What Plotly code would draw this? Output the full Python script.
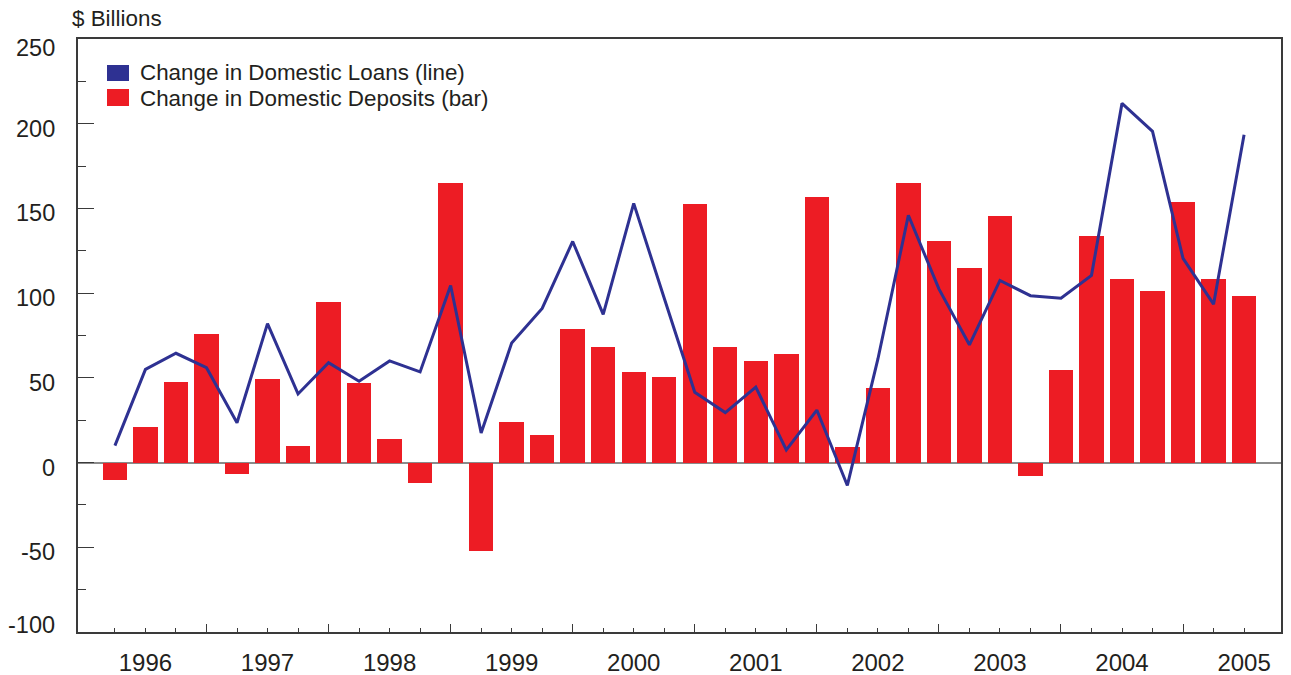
import plotly.graph_objects as go

# Quarterly changes, $ billions (positions 0..37 on the quarter axis)
quarters = list(range(38))
deposits = [-10, 21, 47.5, 76, -7, 49.5, 10, 95, 47, 14,
            -12, 165, -52, 24, 16, 79, 68, 53.5, 50.5, 152.5,
            68.5, 60, 64, 157, 9, 44, 165, 131, 115, 145.5,
            -8, 54.5, 134, 108.5, 101, 154, 108.5, 98.5]
loans = [10, 55, 64.5, 56, 23.5, 82, 40.5, 59, 48, 60,
         53.5, 104.5, 17.5, 70.5, 91, 130.5, 87.5, 153, 97, 41.5,
         29.5, 44.5, 7.5, 31, -13.5, 61, 146, 102.5, 69.5, 107.5,
         98.5, 97, 110.5, 212, 195.5, 120.5, 93.5, 193.5]

# Year labels and year-boundary ticks on the quarter axis
year_labels = [str(y) for y in range(1996, 2006)]
year_label_pos = [1 + 4 * i for i in range(len(year_labels))]
year_tick_pos = [3 + 4 * i for i in range(9)]
y_ticks = [-100, -50, 0, 50, 100, 150, 200, 250]
y_range = [-100, 250]

RED = "#ED1C24"
BLUE = "#2E3192"
AXIS = "#3a3a3a"
TEXT = "#231F20"
FONT = "Liberation Sans, Arial, Helvetica, sans-serif"

fig = go.Figure()
fig.add_trace(go.Bar(x=quarters, y=deposits, width=0.8,
                     marker=dict(color=RED, line=dict(width=0)),
                     showlegend=False))
fig.add_trace(go.Scatter(x=quarters, y=loans, mode="lines",
                         line=dict(color=BLUE, width=3),
                         showlegend=False))
# carrier for the year-boundary tick axis
fig.add_trace(go.Scatter(x=[None], y=[None], xaxis="x2", yaxis="y",
                         showlegend=False, hoverinfo="skip"))

xrange = [-1.21, 38.21]
fig.update_layout(
    width=1291, height=675, autosize=False,
    margin=dict(l=78, r=10, t=39, b=43),
    paper_bgcolor="white", plot_bgcolor="white",
    font=dict(family=FONT, size=22, color=TEXT),
    showlegend=False,
    bargap=0,
    xaxis=dict(
        range=xrange, tickmode="array", tickvals=year_label_pos,
        ticktext=year_labels, ticks="inside", ticklen=4, tickwidth=1.2,
        tickcolor=AXIS, showline=True, linecolor=AXIS, linewidth=1.5,
        mirror=True, showgrid=False, zeroline=False, automargin=False,
        ticklabelstandoff=8,
        tickfont=dict(family=FONT, size=24, color=TEXT),
        minor=dict(tickmode="array", tickvals=quarters, ticks="inside",
                   ticklen=4, tickwidth=1.2, tickcolor=AXIS),
    ),
    xaxis2=dict(
        range=xrange, overlaying="x", anchor="y", side="bottom",
        tickmode="array", tickvals=year_tick_pos, ticks="inside",
        ticklen=8, tickwidth=1.2, tickcolor=AXIS, automargin=False,
        showticklabels=False, showline=False, showgrid=False,
        zeroline=False,
    ),
    yaxis=dict(
        range=y_range, tickmode="array", tickvals=y_ticks,
        showticklabels=False, automargin=False,
        ticks="inside", ticklen=16, tickwidth=1.2, tickcolor=AXIS,
        showline=True, linecolor=AXIS, linewidth=1.5, mirror=True,
        showgrid=False, zeroline=True, zerolinecolor="#8a8a8a",
        zerolinewidth=2,
        minor=dict(dtick=25, tick0=0, ticks="inside", ticklen=8,
                   tickwidth=1.2, tickcolor=AXIS),
    ),
)

# Value-axis labels: set slightly below their ticks, kept inside the frame
for v in y_ticks:
    if v == y_range[1]:
        dy = -9
    elif v == y_range[0]:
        dy = 7
    else:
        dy = -5
    fig.add_annotation(xref="paper", yref="y", x=0, y=v,
                       xanchor="right", yanchor="middle", xshift=-21,
                       yshift=dy, showarrow=False, text=str(v),
                       font=dict(family=FONT, size=23.5, color=TEXT))

# Legend swatches and labels
fig.add_shape(type="rect", xref="paper", yref="paper",
              x0=0.0241, x1=0.0424, y0=0.9292, y1=0.9562,
              fillcolor=BLUE, line=dict(width=0))
fig.add_shape(type="rect", xref="paper", yref="paper",
              x0=0.0241, x1=0.0424, y0=0.887, y1=0.9157,
              fillcolor=RED, line=dict(width=0))
fig.add_annotation(xref="paper", yref="paper", x=0.0498, y=0.9427,
                   xanchor="left", yanchor="middle", showarrow=False,
                   text="Change in Domestic Loans (line)",
                   font=dict(family=FONT, size=22.4, color=TEXT))
fig.add_annotation(xref="paper", yref="paper", x=0.0498, y=0.9005,
                   xanchor="left", yanchor="middle", showarrow=False,
                   text="Change in Domestic Deposits (bar)",
                   font=dict(family=FONT, size=22.4, color=TEXT))
# Unit label above the value axis
fig.add_annotation(xref="paper", yref="paper", x=-0.0067, y=1.0354,
                   xanchor="left", yanchor="middle", showarrow=False,
                   text="$ Billions",
                   font=dict(family=FONT, size=22.4, color=TEXT))

fig.write_html("out.html")
